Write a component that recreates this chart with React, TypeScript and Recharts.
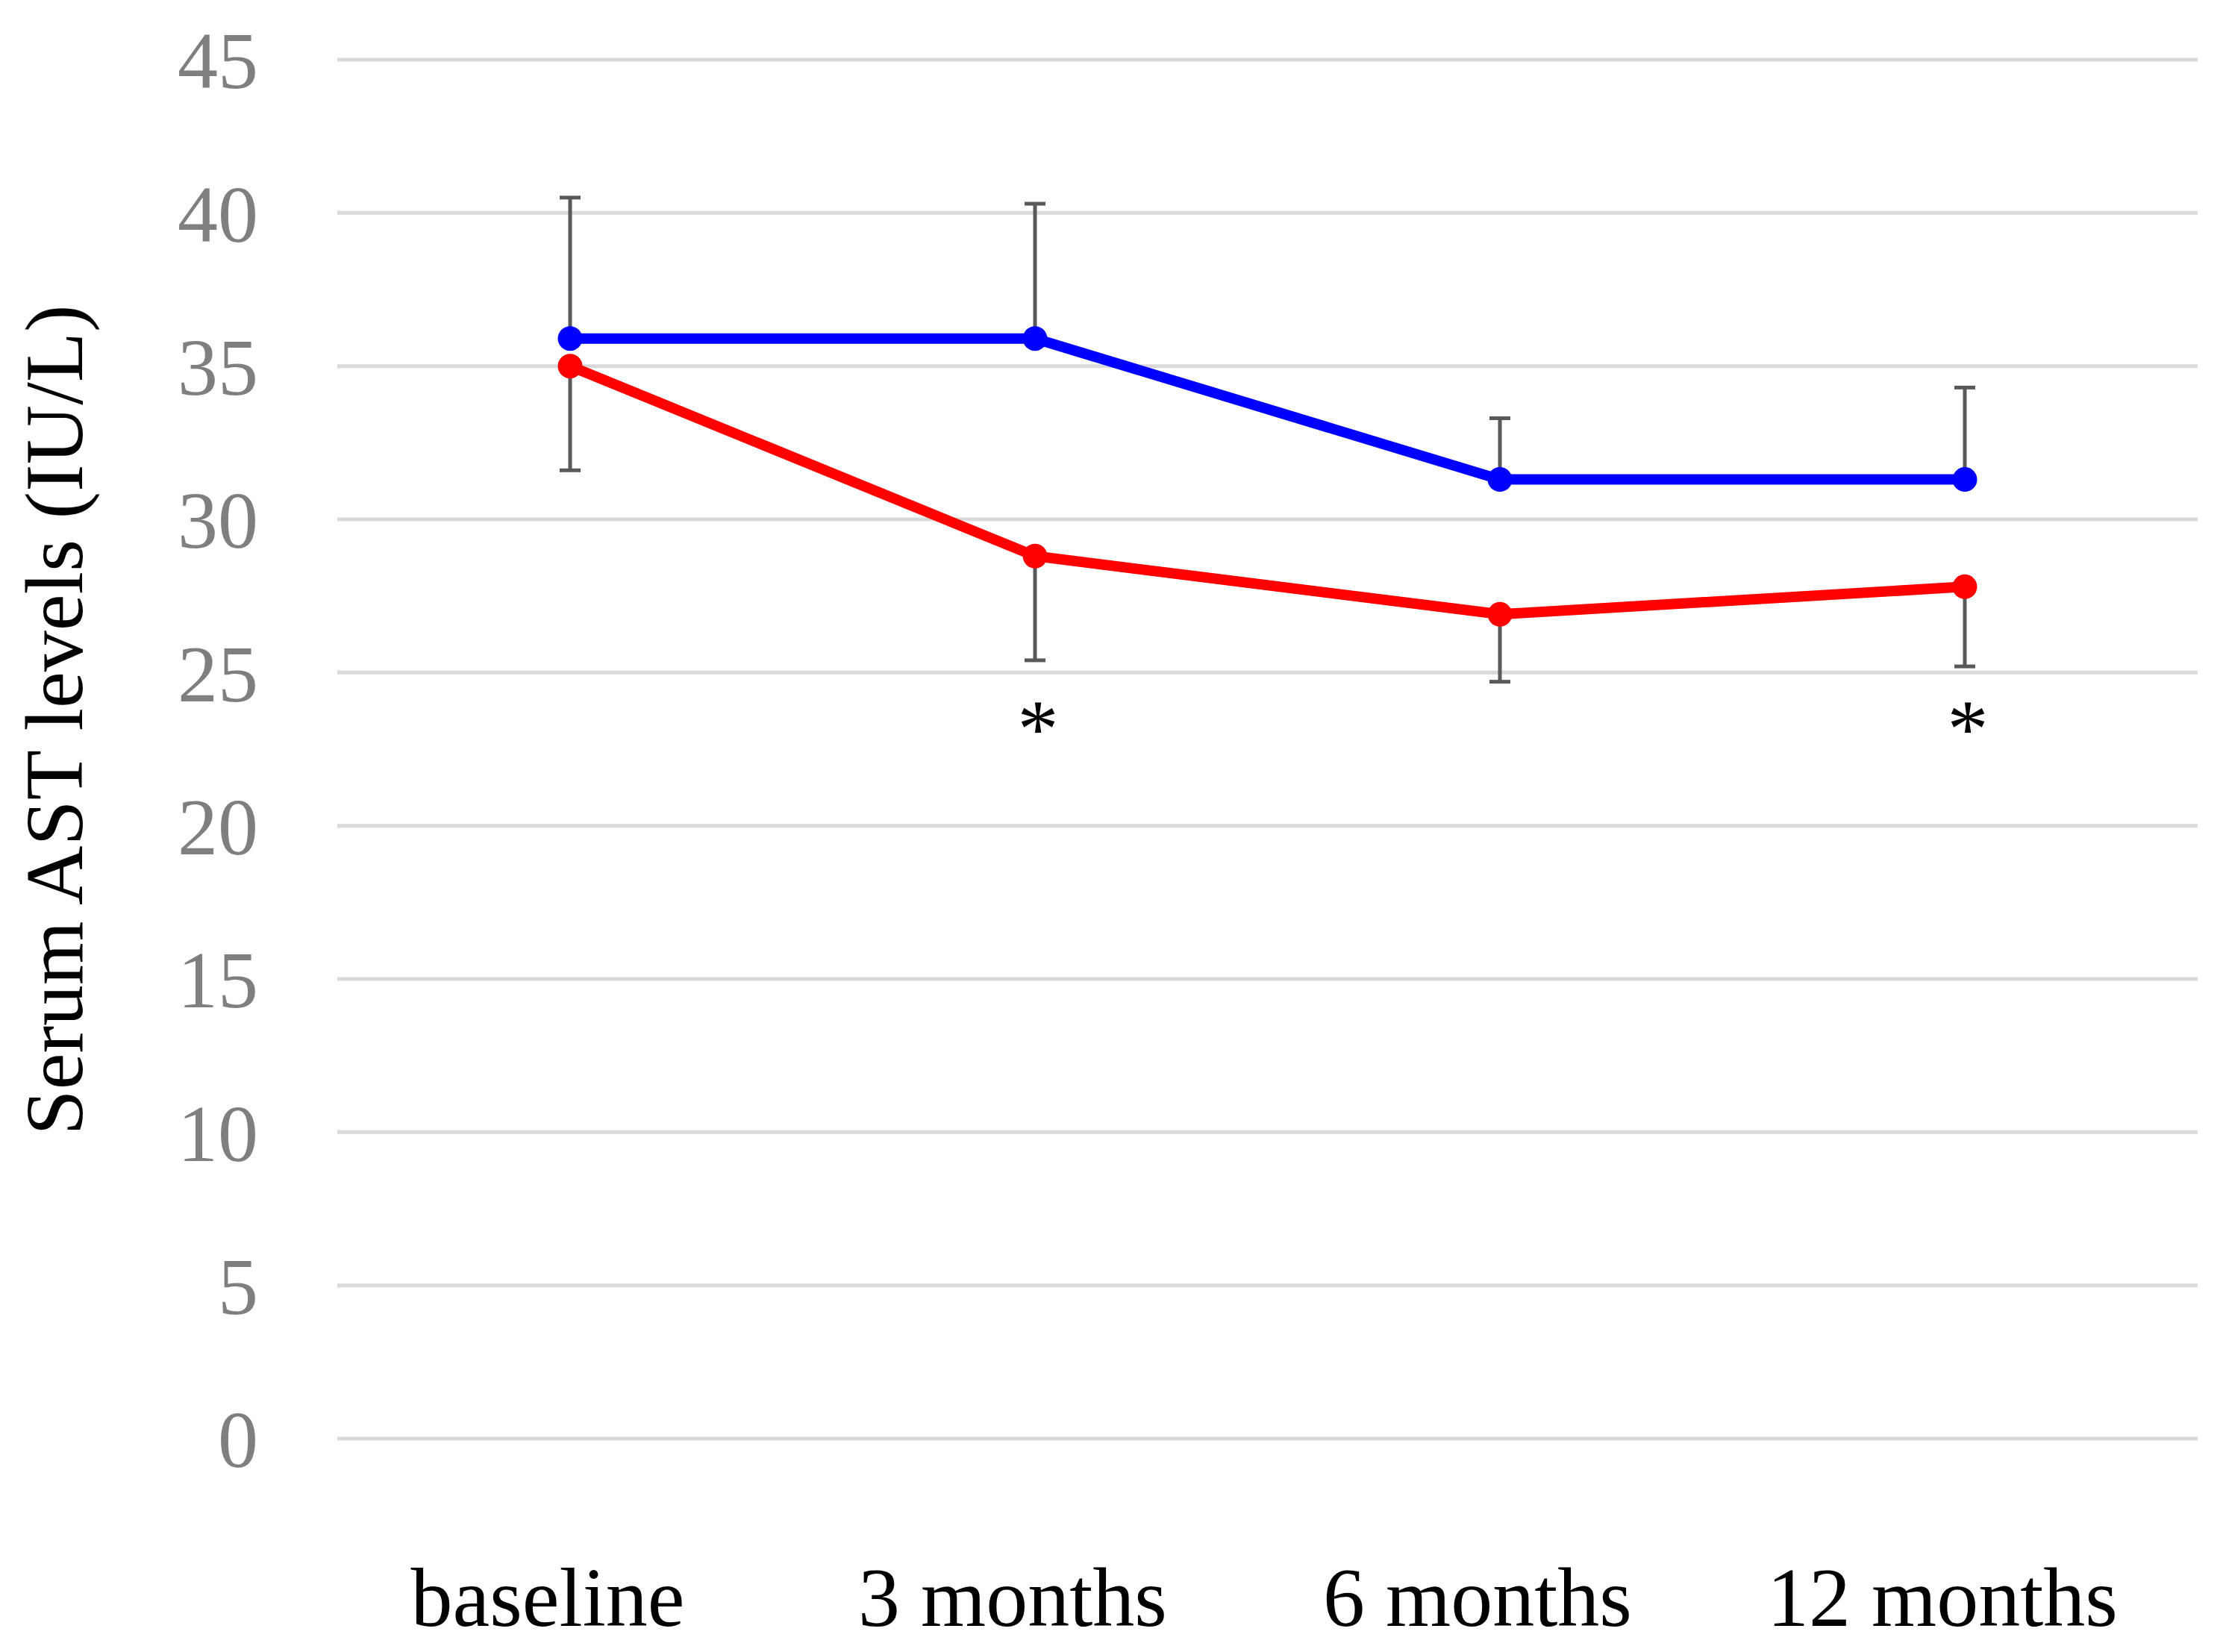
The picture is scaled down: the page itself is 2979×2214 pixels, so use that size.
import React from 'react';
import {
  LineChart,
  Line,
  XAxis,
  YAxis,
  CartesianGrid,
  ErrorBar,
  Label
} from 'recharts';

const categories = ['baseline', '3 months', '6 months', '12 months'];
const blueValues = [35.9, 35.9, 31.3, 31.3];
const redValues = [35.0, 28.8, 26.9, 27.8];
const blueUpperError = [4.6, 4.4, 2.0, 3.0];
const redLowerError = [3.4, 3.4, 2.2, 2.6];
// where the significance asterisks sit (null = no mark)
const significance = [null, 23.6, null, 23.6];
const yTicks = [0, 5, 10, 15, 20, 25, 30, 35, 40, 45];

const data = categories.map((name, i) => ({
  name,
  blue: blueValues[i],
  red: redValues[i],
  blueErr: [0, blueUpperError[i]],
  redErr: [redLowerError[i], 0],
  star: significance[i]
}));

const FONT = '"Liberation Serif", "Times New Roman", serif';

const StarDot = (props: any) => {
  const { cx, cy, index, value } = props;
  if (value == null || cy == null) return <g key={`star-${index}`} />;
  return (
    <text
      key={`star-${index}`}
      x={cx + 4}
      y={cy + 55}
      textAnchor="middle"
      fontSize={110}
      fontFamily={FONT}
      fill="#000"
    >
      *
    </text>
  );
};

const renderYLabel = (props: any) => {
  const vb = props.viewBox || { x: 0, y: 0, width: 0, height: 0 };
  const x = vb.x + 110;
  const y = vb.y + vb.height / 2 - 39;
  return (
    <text
      x={x}
      y={y}
      transform={`rotate(-90, ${x}, ${y})`}
      textAnchor="middle"
      fontSize={110}
      fontFamily={FONT}
      fill="#000"
    >
      Serum AST levels (IU/L)
    </text>
  );
};

export default function App() {
  return (
    <div style={{ margin: '-8px 0 0 -8px', width: 2979, height: 2214, background: '#fff' }}>
      <LineChart
        width={2979}
        height={2214}
        data={data}
        margin={{ top: 80, right: 34, left: 0, bottom: 0 }}
      >
        <CartesianGrid vertical={false} stroke="#d9d9d9" strokeWidth={5} />
        <XAxis
          dataKey="name"
          height={286}
          padding={{ left: 312, right: 312 }}
          axisLine={false}
          tickLine={false}
          tickSize={0}
          tickMargin={171}
          interval={0}
          tick={{ fill: '#000', fontSize: 112, fontFamily: FONT, dx: -30 }}
        />
        <YAxis
          width={452}
          domain={[0, 45]}
          ticks={yTicks}
          interval={0}
          axisLine={false}
          tickLine={false}
          tickSize={0}
          tickMargin={106}
          tick={{ fill: '#7f7f7f', fontSize: 108, fontFamily: FONT }}
        >
          <Label content={renderYLabel} />
        </YAxis>
        <Line
          dataKey="blue"
          stroke="#0000ff"
          strokeWidth={14}
          dot={{ r: 16.5, fill: '#0000ff', stroke: 'none' }}
          activeDot={false}
          isAnimationActive={false}
        >
          <ErrorBar dataKey="blueErr" direction="y" width={14} stroke="#595959" strokeWidth={5} />
        </Line>
        <Line
          dataKey="red"
          stroke="#ff0000"
          strokeWidth={14}
          dot={{ r: 16.5, fill: '#ff0000', stroke: 'none' }}
          activeDot={false}
          isAnimationActive={false}
        >
          <ErrorBar dataKey="redErr" direction="y" width={14} stroke="#595959" strokeWidth={5} />
        </Line>
        <Line
          dataKey="star"
          stroke="none"
          dot={StarDot}
          activeDot={false}
          legendType="none"
          isAnimationActive={false}
        />
      </LineChart>
    </div>
  );
}
